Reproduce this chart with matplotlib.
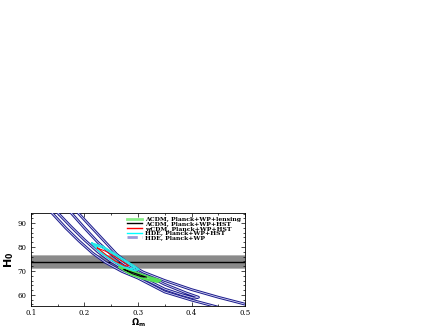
import numpy as np
import matplotlib
matplotlib.use("Agg")
import matplotlib.pyplot as plt
from matplotlib.lines import Line2D
import matplotlib.patheffects as pe

# HDE, Planck+WP  (68% = inner, 95% = outer), edges
hde_in_lo_x = [0.150, 0.175, 0.200, 0.225, 0.250, 0.275, 0.300, 0.350, 0.380, 0.405, 0.413]
hde_in_lo_y = [94.3, 88.5, 83.0, 78.0, 74.0, 70.5, 68.0, 62.4, 60.2, 58.6, 59.0]
hde_in_up_x = [0.413, 0.390, 0.350, 0.300, 0.275, 0.250, 0.225, 0.200, 0.175]
hde_in_up_y = [59.0, 60.8, 64.4, 70.0, 72.8, 77.0, 82.0, 88.0, 94.3]
hde_out_lo_x = [0.139, 0.165, 0.190, 0.215, 0.240, 0.270, 0.300, 0.350, 0.400, 0.447]
hde_out_lo_y = [94.3, 88.0, 82.5, 77.5, 73.5, 69.8, 67.0, 61.2, 57.8, 55.0]
hde_out_up_x = [0.188, 0.210, 0.235, 0.260, 0.285, 0.310, 0.350, 0.400, 0.450, 0.500]
hde_out_up_y = [94.3, 89.0, 83.0, 77.0, 72.6, 69.5, 66.0, 62.2, 59.0, 56.1]

# HDE, Planck+WP+HST (cyan, two levels)
hde_hst_out_x = [0.214, 0.235, 0.255, 0.275, 0.292, 0.302, 0.292, 0.270, 0.250, 0.228, 0.214]
hde_hst_out_y = [81.6, 80.2, 77.4, 74.6, 72.2, 70.6, 70.2, 72.0, 74.6, 78.0, 81.6]
hde_hst_in_x = [0.220, 0.237, 0.255, 0.273, 0.288, 0.294, 0.285, 0.265, 0.248, 0.232, 0.220]
hde_hst_in_y = [80.8, 79.3, 76.8, 74.1, 72.0, 71.0, 71.0, 72.8, 75.2, 78.2, 80.8]

# wCDM, Planck+WP+HST (red)
wcdm_x = [0.224, 0.240, 0.258, 0.275, 0.283, 0.276, 0.258, 0.240, 0.224]
wcdm_y = [79.6, 78.2, 75.8, 73.4, 72.2, 72.0, 74.0, 76.8, 79.6]

# LCDM, Planck+WP+lensing (green)
lcdm_lens_x = [0.266, 0.290, 0.315, 0.342, 0.336, 0.310, 0.285, 0.266]
lcdm_lens_y = [71.6, 69.8, 67.8, 66.0, 65.5, 66.8, 68.8, 71.6]

# LCDM, Planck+WP+HST (black)
lcdm_hst_x = [0.274, 0.292, 0.308, 0.316, 0.306, 0.290, 0.274]
lcdm_hst_y = [70.6, 69.2, 68.0, 67.4, 67.6, 68.8, 70.6]

# HST prior on H0
h0_mean = 73.8
h0_err = 2.4

legend_labels = ["ΛCDM, Planck+WP+lensing", "ΛCDM, Planck+WP+HST",
                 "wCDM, Planck+WP+HST", "HDE, Planck+WP+HST", "HDE, Planck+WP"]

plt.rcParams['font.family'] = ['DejaVu Serif']

fig = plt.figure(figsize=(4.36, 3.27), dpi=100)
ax = fig.add_axes([0.071, 0.064, 0.491, 0.285])

ax.axhspan(h0_mean - h0_err - 0.4, h0_mean + h0_err + 0.4, color='#b4b4b4', lw=0, zorder=1)
ax.axhspan(h0_mean - h0_err, h0_mean + h0_err, color='#8a8a8a', lw=0, zorder=1)
ax.axhline(h0_mean, color='black', lw=1.0, zorder=2)

blue_fx = [pe.Stroke(linewidth=2.0, foreground='#1a1a8c'), pe.Normal()]
ax.plot(hde_in_lo_x + hde_in_up_x, hde_in_lo_y + hde_in_up_y, color='#d8d8f4', lw=0.6,
        path_effects=blue_fx, zorder=3)
ax.plot(hde_out_lo_x, hde_out_lo_y, color='#d8d8f4', lw=0.6, path_effects=blue_fx, zorder=3)
ax.plot(hde_out_up_x, hde_out_up_y, color='#d8d8f4', lw=0.6, path_effects=blue_fx, zorder=3)

ax.plot(lcdm_lens_x, lcdm_lens_y, color='#55e055', lw=1.8, zorder=4)
ax.plot(lcdm_hst_x, lcdm_hst_y, color='black', lw=0.7, zorder=5)
ax.plot(hde_hst_out_x, hde_hst_out_y, color='#22e8e8', lw=1.2, zorder=4)
ax.plot(hde_hst_in_x, hde_hst_in_y, color='#22e8e8', lw=0.9, zorder=4)
ax.plot(wcdm_x, wcdm_y, color='red', lw=0.7, zorder=5)

ax.set_xlim(0.1, 0.5)
ax.set_ylim(55.3, 94.3)
ax.set_xticks([0.1, 0.2, 0.3, 0.4, 0.5])
ax.set_xticks(np.arange(0.1, 0.5, 0.05), minor=True)
ax.set_yticks([60, 70, 80, 90])
ax.set_yticks(np.arange(56, 95, 2), minor=True)
ax.tick_params(which='both', direction='in', top=True, right=True, labelsize=5, width=0.5)
ax.tick_params(axis='x', which='major', pad=2)
ax.tick_params(which='major', length=3)
ax.tick_params(which='minor', length=1.5)
for s in ax.spines.values():
    s.set_linewidth(0.6)

ax.set_xlabel(r'$\mathbf{\Omega_m}$', fontsize=6, labelpad=-0.5)
ax.set_ylabel(r'$\mathbf{H_0}$', fontsize=8, labelpad=1)

handles = [Line2D([], [], color='#88ee88', lw=2),
           Line2D([], [], color='black', lw=1),
           Line2D([], [], color='red', lw=1),
           Line2D([], [], color='cyan', lw=1),
           Line2D([], [], color='#9a9ad8', lw=2, ls='--')]
ax.legend(handles, legend_labels, loc='upper right', frameon=False,
          prop={'size': 4.4, 'weight': 'bold'}, handlelength=2.4, handleheight=0.5,
          labelspacing=-0.05, borderaxespad=0.2, handletextpad=0.6)

fig.savefig('out.png', dpi=100)
